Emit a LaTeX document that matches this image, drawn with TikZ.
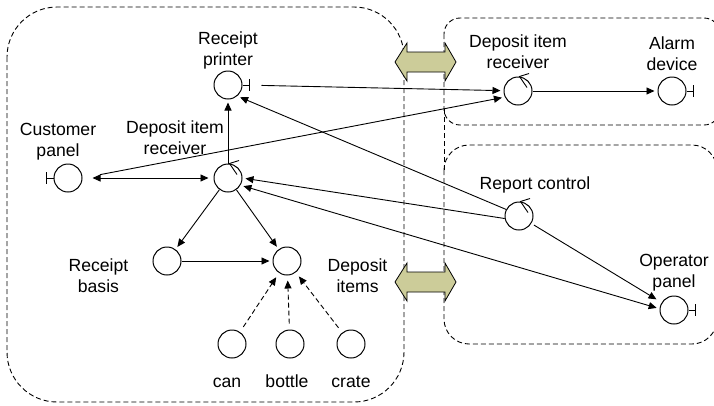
\documentclass[tikz,border=0pt]{standalone}
\usepackage{fontspec}
\setmainfont{Liberation Sans}
\usetikzlibrary{arrows.meta, positioning}
\definecolor{khaki}{RGB}{204,204,153}

% control mark on top of a circle, interface bar beside a circle
\newcommand{\ctrlmark}[1]{\draw[line width=0.9pt] ([xshift=11pt,yshift=3pt]#1.north) -- ([xshift=1.5pt]#1.north) -- ([xshift=9pt,yshift=-11pt]#1.north);}
\newcommand{\ifaceright}[1]{\draw[line width=0.9pt] (#1.east) -- ++(7,0) ++(0,-6) -- ++(0,12);}
\newcommand{\ifaceleft}[1]{\draw[line width=0.9pt] (#1.west) -- ++(-7,0) ++(0,-6) -- ++(0,12);}

\begin{document}
\begin{tikzpicture}[x=1pt, y=-1pt,
  obj/.style={circle, draw, minimum size=28pt, inner sep=0pt, line width=1pt},
  lbl/.style={align=center, inner sep=0pt, font=\fontsize{17.6}{21}\selectfont},
  arr/.style={-{Triangle[length=8pt, width=7pt]}, line width=0.9pt, shorten >=3pt},
  dbl/.style={{Triangle[length=8pt, width=7pt]}-{Triangle[length=8pt, width=7pt]}, line width=0.9pt, shorten >=3pt, shorten <=3pt},
  dep/.style={arr, dash pattern=on 5pt off 3pt, shorten <=6pt, shorten >=5pt},
  region/.style={draw, line width=0.9pt, dash pattern=on 5pt off 3pt},
  blk/.style={draw, fill=khaki, line width=0.8pt}
]
\useasboundingbox (0,0) rectangle (714,405);

% regions
\draw[region, rounded corners=50pt] (7,7) rectangle (404,402);
\draw[region, rounded corners=16pt] (444,18) rectangle (720,125);
\draw[region, rounded corners=25pt] (444,145) rectangle (717,344);
\draw[region] (444,109) -- (444,170);
\foreach \y in {62,282}
  \draw[blk] (395,\y) -- ++(12,-19) -- ++(0,9) -- ++(38,0) -- ++(0,-9) -- ++(11,19)
    -- ++(-11,19) -- ++(0,-9) -- ++(-38,0) -- ++(0,9) -- cycle;

% objects
\node[obj] (rp) at (228,85) {};
\node[obj] (cp) at (68,178) {};
\node[obj] (drl) at (228,178) {};
\node[obj] (rb) at (167,261) {};
\node[obj] (di) at (287,261) {};
\node[obj] (can) at (232,344) {};
\node[obj] (bottle) at (290,344) {};
\node[obj] (crate) at (351,344) {};
\node[obj] (drr) at (518,91) {};
\node[obj] (ad) at (672,91) {};
\node[obj] (rc) at (519,216) {};
\node[obj] (op) at (674,310) {};

\ifaceright{rp}
\ifaceleft{cp}
\ifaceright{ad}
\ifaceright{op}
\ctrlmark{drl}
\ctrlmark{drr}
\ctrlmark{rc}

% labels
\node[lbl, above=1pt of rp] (rpl) {Receipt\\printer};
\node[lbl, above=3pt of cp, xshift=-10pt] (cpl) {Customer\\panel};
\node[lbl, above=9pt of drl, xshift=-53pt] (drll) {Deposit item\\receiver};
\node[lbl, left=24pt of rb, yshift=-15pt] (rbl) {Receipt\\basis};
\node[lbl, right=26pt of di, yshift=-15pt] (dil) {Deposit\\items};
\node[lbl, below=16pt of can, text height=12.5pt, xshift=-5pt] (canl) {can};
\node[lbl, below=16pt of bottle, text height=12.5pt, xshift=-3pt] (bottlel) {bottle};
\node[lbl, below=16pt of crate, text height=12.5pt] (cratel) {crate};
\node[lbl, above=8pt of drr] (drrl) {Deposit item\\receiver};
\node[lbl, above=6pt of ad] (adl) {Alarm\\device};
\node[lbl, above=8pt of rc, xshift=16pt] (rcl) {Report control};
\node[lbl, above=4pt of op] (opl) {Operator\\panel};

% connectors
\draw[arr] (drl) -- (rp);
\draw[dbl, shorten <=10pt, shorten >=5pt] (cp) -- (drl);
\draw[arr, shorten <=19pt] (rp.east) -- (drr);
\draw[arr, shorten <=18pt] (cp.east) -- (drr.205);
\draw[arr] (drr) -- (ad);
\foreach \t in {rb, di}
  \draw[arr] (drl) -- (\t);
\draw[arr] (rb) -- (di);
\foreach \s in {can, bottle, crate}
  \draw[dep] (\s) -- (di);
\draw[arr] (rc.153) -- (rp.-50);
\draw[arr] (rc.190) -- (drl.east);
\draw[dbl] (drl.-30) -- (op.175);
\draw[arr, shorten <=3pt, shorten >=6pt] (rc) -- (op);
\end{tikzpicture}
\end{document}
